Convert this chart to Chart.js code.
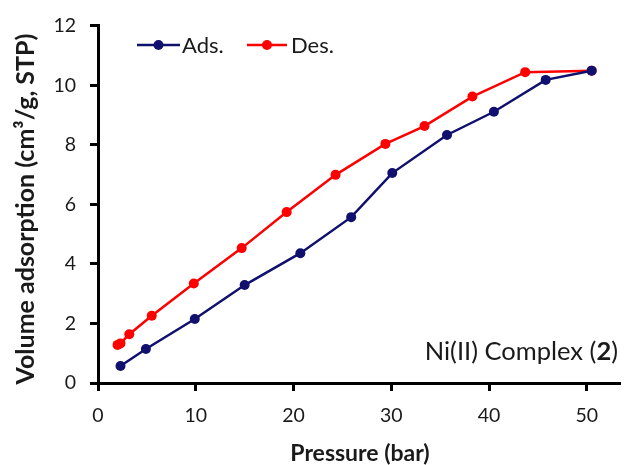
<!DOCTYPE html>
<html>
<head>
<meta charset="utf-8">
<script src="https://cdn.jsdelivr.net/npm/chart.js@4.4.1/dist/chart.umd.min.js"></script>
<style>
html,body{margin:0;padding:0;background:#fff;}
canvas{display:block;}
</style>
</head>
<body>
<canvas id="c" width="625" height="465"></canvas>
<script>
// ---- data ----
const adsPressure = [2.3, 4.9, 9.9, 15.0, 20.7, 25.9, 30.1, 35.7, 40.5, 45.8, 50.5];
const adsVolume   = [0.57, 1.14, 2.15, 3.29, 4.36, 5.57, 7.05, 8.33, 9.11, 10.18, 10.49];
const desPressure = [50.5, 43.7, 38.3, 33.4, 29.4, 24.3, 19.3, 14.7, 9.8, 5.5, 3.2, 2.3, 2.0];
const desVolume   = [10.49, 10.44, 9.62, 8.63, 8.03, 6.99, 5.74, 4.53, 3.34, 2.26, 1.64, 1.33, 1.28];
const xTickValues = [0, 10, 20, 30, 40, 50];
const yTickValues = [0, 2, 4, 6, 8, 10, 12];
const seriesNames = ['Ads.', 'Des.'];
const xTitle = 'Pressure (bar)';
const yTitle = 'Volume adsorption (cm\u00B3/g, STP)';
const noteMain = 'Ni(II) Complex (';
const noteBold = '2';
const noteEnd = ')';

const ADS_COLOR = '#10106e';
const DES_COLOR = '#ff0000';
const TEXT = '#1a1a1a';
const FONT = 'Lato, "Open Sans", sans-serif';

function pts(xs, ys){ return xs.map((x,i)=>({x:x, y:ys[i]})); }

const overlay = {
  id: 'overlay',
  afterDraw(chart){
    const ctx = chart.ctx;
    ctx.save();
    // axis titles
    ctx.fillStyle = TEXT;
    ctx.textAlign = 'center';
    ctx.textBaseline = 'middle';
    ctx.font = 'bold 23px ' + FONT;
    ctx.fillText(xTitle, 360, 454);
    ctx.save();
    ctx.translate(26, 209);
    ctx.rotate(-Math.PI/2);
    ctx.font = 'bold 25px ' + FONT;
    ctx.fillText(yTitle, 0, 0);
    ctx.restore();

    // legend
    const legend = [
      {x0:137, x1:180, tx:182, color:ADS_COLOR, name:seriesNames[0]},
      {x0:247, x1:287, tx:291, color:DES_COLOR, name:seriesNames[1]}
    ];
    const ly = 45;
    legend.forEach(l=>{
      ctx.strokeStyle = l.color;
      ctx.lineWidth = 2.5;
      ctx.beginPath(); ctx.moveTo(l.x0, ly); ctx.lineTo(l.x1, ly); ctx.stroke();
      ctx.fillStyle = l.color;
      ctx.beginPath(); ctx.arc((l.x0+l.x1)/2, ly, 5, 0, Math.PI*2); ctx.fill();
      ctx.fillStyle = TEXT;
      ctx.font = '22px ' + FONT;
      ctx.textAlign = 'left';
      ctx.textBaseline = 'middle';
      ctx.fillText(l.name, l.tx, ly+1);
    });

    // annotation
    const right = 618, ay = 352;
    const fs = 25.5;
    ctx.fillStyle = TEXT;
    ctx.textBaseline = 'middle';
    ctx.textAlign = 'left';
    ctx.font = fs + 'px ' + FONT;
    const wEnd = ctx.measureText(noteEnd).width;
    const wMain = ctx.measureText(noteMain).width;
    ctx.font = 'bold ' + fs + 'px ' + FONT;
    const wBold = ctx.measureText(noteBold).width;
    let x = right - wEnd - wBold - wMain;
    ctx.font = fs + 'px ' + FONT;
    ctx.fillText(noteMain, x, ay); x += wMain;
    ctx.font = 'bold ' + fs + 'px ' + FONT;
    ctx.fillText(noteBold, x, ay); x += wBold;
    ctx.font = fs + 'px ' + FONT;
    ctx.fillText(noteEnd, x, ay);
    ctx.restore();
  }
};

new Chart(document.getElementById('c'), {
  type: 'scatter',
  data: {
    datasets: [
      { label: seriesNames[0], data: pts(adsPressure, adsVolume), showLine: true,
        borderColor: ADS_COLOR, backgroundColor: ADS_COLOR, borderWidth: 2.5,
        pointRadius: 5, pointBorderWidth: 0, pointBackgroundColor: ADS_COLOR, tension: 0 },
      { label: seriesNames[1], data: pts(desPressure, desVolume), showLine: true,
        borderColor: DES_COLOR, backgroundColor: DES_COLOR, borderWidth: 2.5,
        pointRadius: 5, pointBorderWidth: 0, pointBackgroundColor: DES_COLOR, tension: 0 }
    ]
  },
  options: {
    responsive: false,
    animation: false,
    devicePixelRatio: 1,
    layout: { padding: { left: 0, right: 2, top: 25, bottom: 0 } },
    plugins: { legend: { display: false }, tooltip: { enabled: false } },
    scales: {
      x: {
        type: 'linear', min: 0, max: 53.4,
        afterBuildTicks: s => { s.ticks = xTickValues.map(v => ({value: v})); },
        afterFit: s => { s.height = 82; },
        grid: { display: true, drawOnChartArea: false, drawTicks: true, tickLength: 8, tickWidth: 3, tickColor: '#000' },
        border: { display: true, color: '#000', width: 3 },
        ticks: { font: { family: FONT, size: 19.5 }, color: TEXT, padding: 13, maxRotation: 0 }
      },
      y: {
        type: 'linear', min: 0, max: 12,
        afterBuildTicks: s => { s.ticks = yTickValues.map(v => ({value: v})); },
        afterFit: s => { s.width = 98; },
        grid: { display: true, drawOnChartArea: false, drawTicks: true, tickLength: 8, tickWidth: 3, tickColor: '#000' },
        border: { display: true, color: '#000', width: 3 },
        ticks: { font: { family: FONT, size: 19.5 }, color: TEXT, padding: 14 }
      }
    }
  },
  plugins: [overlay]
});
</script>
</body>
</html>
